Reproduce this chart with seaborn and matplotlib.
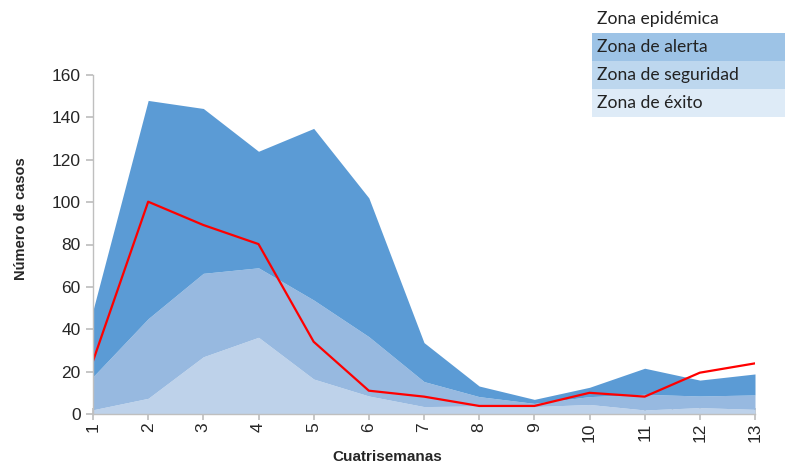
import numpy as np
import pandas as pd
import matplotlib
matplotlib.use("Agg")
import matplotlib.pyplot as plt
from matplotlib.patches import Rectangle
from matplotlib.ticker import MultipleLocator
import seaborn as sns

cuatrisemanas = list(range(1, 13 + 1))
# upper limit of each zone (stacked area boundaries)
limite_exito = [2, 7.4, 27, 36.2, 16.5, 8.5, 3.5, 3.8, 3.5, 4.5, 1.9, 3, 2.2]
limite_seguridad = [17.6, 45, 66.4, 69, 53.8, 36.5, 15.3, 8.2, 5, 8.2, 9.3, 8.5, 9]
limite_alerta = [49, 148, 144.2, 124, 134.8, 102, 33.7, 13.2, 6.9, 12.6, 21.6, 16, 18.9]
casos = [25, 100.2, 89.2, 80.2, 34.1, 11, 8.2, 3.8, 3.8, 10, 8.2, 19.5, 23.9]

zonas = ["Zona epidémica", "Zona de alerta", "Zona de seguridad", "Zona de éxito"]
colores_leyenda = ["#FFFFFF", "#9DC3E6", "#BDD7EE", "#DEEBF7"]

df = pd.DataFrame({"cuatrisemana": cuatrisemanas, "casos": casos})

sns.set_theme(style="white")
plt.rcParams["font.family"] = ["Liberation Sans", "DejaVu Sans"]

fig = plt.figure(figsize=(7.85, 4.67), dpi=100)
ax = fig.add_axes([93 / 785, 53 / 467, (755 - 93) / 785, (414 - 75) / 467])

x = np.array(cuatrisemanas)
ax.fill_between(x, 0, limite_exito, color="#BED2EA", linewidth=0)
ax.fill_between(x, limite_exito, limite_seguridad, color="#97B9E0", linewidth=0)
ax.fill_between(x, limite_seguridad, limite_alerta, color="#5B9BD5", linewidth=0)

sns.lineplot(data=df, x="cuatrisemana", y="casos", color="#FF0000", linewidth=1.6, ax=ax)

ax.set_xlim(1, 13)
ax.set_ylim(0, 160)
ax.yaxis.set_major_locator(MultipleLocator(20))
ax.set_xticks(cuatrisemanas)
ax.set_xticks(np.arange(1.5, 13, 1), minor=True)
ax.set_xticklabels([str(c) for c in cuatrisemanas], rotation=90, fontsize=12.5)
ax.tick_params(axis="y", labelsize=12.5, left=True, length=5, color="#BFBFBF", pad=4)
ax.tick_params(axis="x", which="major", bottom=True, direction="inout", length=8,
               color="#BFBFBF", pad=2)
ax.tick_params(axis="x", which="minor", bottom=True, direction="in", length=4,
               color="#BFBFBF")

for side in ["top", "right"]:
    ax.spines[side].set_visible(False)
for side in ["left", "bottom"]:
    ax.spines[side].set_color("#BFBFBF")
    ax.spines[side].set_linewidth(1)

ax.set_xlabel("")
ax.set_ylabel("")
fig.text(387 / 785, 1 - 457 / 467, "Cuatrisemanas", fontsize=11, fontweight="bold",
         ha="center", va="center")
fig.text(21 / 785, 1 - 219 / 467, "Número de casos", fontsize=10.5, fontweight="bold",
         rotation=90, ha="center", va="center")

# table-like legend in the top right corner
fila_top = [5, 33, 61, 89]
for zona, color, top in zip(zonas, colores_leyenda, fila_top):
    fig.patches.append(Rectangle((592 / 785, 1 - (top + 28) / 467), 193 / 785, 28 / 467,
                                 transform=fig.transFigure, facecolor=color,
                                 edgecolor="none", zorder=0))
    fig.text(597 / 785, 1 - (top + 14) / 467, zona, fontsize=12.6, family="Lato",
             color="#222222", va="center", ha="left")

fig.savefig("out.png", dpi=100)
